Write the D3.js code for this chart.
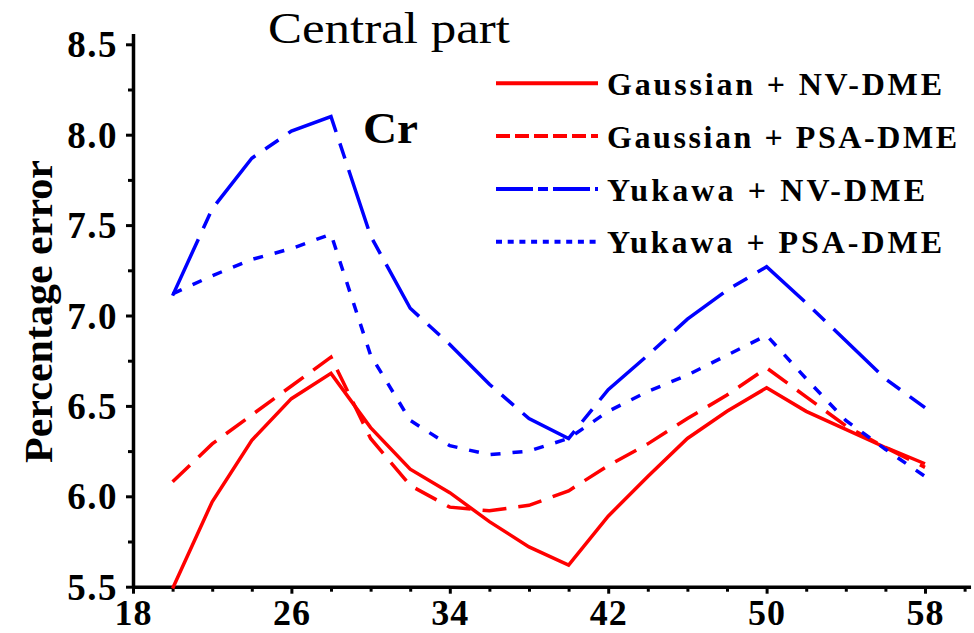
<!DOCTYPE html>
<html><head><meta charset="utf-8">
<script src="https://cdn.jsdelivr.net/npm/d3@7"></script>
<style>body{margin:0;background:#fff}svg{display:block}</style>
</head><body>
<svg id="c" width="974" height="633"></svg>
<script>
// ---- data ----
const massNumbers = [20,22,24,26,28,30,32,34,36,38,40,42,44,46,48,50,52,54,56,58];
const gaussianNV  = [5.49,5.97,6.31,6.54,6.68,6.38,6.15,6.02,5.86,5.72,5.62,5.89,6.11,6.32,6.47,6.60,6.47,6.37,6.27,6.18];
const gaussianPSA = [6.08,6.29,6.45,6.61,6.77,6.32,6.06,5.94,5.92,5.95,6.03,6.17,6.29,6.43,6.56,6.71,6.55,6.39,6.27,6.16];
const yukawaNV    = [7.11,7.59,7.87,8.02,8.10,7.44,7.04,6.84,6.62,6.43,6.32,6.59,6.78,6.98,7.14,7.27,7.07,6.86,6.65,6.49];
const yukawaPSA   = [7.12,7.22,7.31,7.37,7.45,6.78,6.42,6.28,6.23,6.25,6.32,6.47,6.58,6.67,6.78,6.89,6.65,6.42,6.26,6.11];
const seriesNames = ["Gaussian + NV-DME","Gaussian + PSA-DME","Yukawa + NV-DME","Yukawa + PSA-DME"];
const xTicks = [18,26,34,42,50,58];
const xMinorTicks = [20,22,24,28,30,32,36,38,40,44,46,48,52,54,56,60];
const yTicks = [5.5,6.0,6.5,7.0,7.5,8.0,8.5];
const yMinorTicks = [5.75,6.25,6.75,7.25,7.75,8.25];
const titleText = "Central part";
const elementText = "Cr";
const yLabelText = "Percentage error";

const seriesValues = [gaussianNV, gaussianPSA, yukawaNV, yukawaPSA];
const styles = [
  {color:"#ff0000", dash:null,          legDash:null,         legW:335},
  {color:"#ff0000", dash:"24,12",       legDash:"14,5",       legW:350},
  {color:"#0000ff", dash:"62,12,16,12", legDash:"37,5,10,5",  legW:318},
  {color:"#0000ff", dash:"10,12",       legDash:"6,5.7",      legW:335}
];

const svg = d3.select("#c");
const x = d3.scaleLinear().domain([18,58]).range([133,925]);
const y = d3.scaleLinear().domain([5.5,8.5]).range([586.7,44.3]);
const serif = "'Liberation Serif','Times New Roman',serif";

// axes (extended domain for axis line)
const xAxisScale = x.copy().domain([18,60.3]).range([133,x(60.3)]);
const yAxisScale = y.copy().domain([5.5,8.56]).range([586.7,y(8.56)]);

const gx = svg.append("g").attr("transform",`translate(0,${y(5.5)})`)
  .call(d3.axisBottom(xAxisScale).tickValues(xTicks).tickSize(7).tickSizeOuter(0).tickFormat(d3.format("d")));
const gxm = svg.append("g").attr("transform",`translate(0,${y(5.5)})`)
  .call(d3.axisBottom(xAxisScale).tickValues(xMinorTicks).tickSize(5).tickFormat(""));
gxm.select(".domain").remove();
const gy = svg.append("g").attr("transform",`translate(${x(18)},0)`)
  .call(d3.axisLeft(yAxisScale).tickValues(yTicks).tickSize(7).tickSizeOuter(0).tickFormat(d3.format(".1f")));
const gym = svg.append("g").attr("transform",`translate(${x(18)},0)`)
  .call(d3.axisLeft(yAxisScale).tickValues(yMinorTicks).tickSize(5).tickFormat(""));
gym.select(".domain").remove();

svg.selectAll(".domain").attr("stroke","#000").attr("stroke-width",3.5);
svg.selectAll(".tick line").attr("stroke","#000").attr("stroke-width",3);
gx.selectAll("text").attr("font-family",serif).attr("font-weight","bold").attr("font-size",36)
  .attr("fill","#000").attr("y",38).attr("dy",0).attr("letter-spacing",1);
gy.selectAll("text").attr("font-family",serif).attr("font-weight","bold").attr("font-size",37)
  .attr("fill","#000").attr("x",-15).attr("dy","0.34em").attr("letter-spacing",1.5);

// lines
const line = d3.line().x((d,i)=>x(massNumbers[i])).y(d=>y(d));
seriesValues.forEach((vals,k)=>{
  svg.append("path").datum(vals).attr("d",line)
    .attr("fill","none").attr("stroke",styles[k].color).attr("stroke-width",3.5)
    .attr("stroke-dasharray",styles[k].dash).attr("stroke-linejoin","miter");
});

// legend
const legY = [83.3,136,189,241.7];
seriesNames.forEach((name,k)=>{
  svg.append("line").attr("x1",496).attr("x2",598).attr("y1",legY[k]).attr("y2",legY[k])
    .attr("stroke",styles[k].color).attr("stroke-width",4).attr("stroke-dasharray",styles[k].legDash);
  svg.append("text").attr("x",607).attr("y",legY[k]+11.5).text(name)
    .attr("font-family",serif).attr("font-weight","bold").attr("font-size",32)
    .attr("textLength",styles[k].legW).attr("lengthAdjust","spacing").attr("fill","#000");
});

// title, element label, y label
svg.append("text").attr("x",268).attr("y",43).text(titleText)
  .attr("font-family",serif).attr("font-size",45).attr("textLength",242).attr("lengthAdjust","spacingAndGlyphs");
svg.append("text").attr("x",363).attr("y",143).text(elementText)
  .attr("font-family",serif).attr("font-weight","bold").attr("font-size",44).attr("textLength",55).attr("lengthAdjust","spacingAndGlyphs");
svg.append("text").attr("transform","translate(52,311.5) rotate(-90)").attr("text-anchor","middle").text(yLabelText)
  .attr("font-family",serif).attr("font-weight","bold").attr("font-size",41).attr("textLength",303).attr("lengthAdjust","spacingAndGlyphs");
</script>
</body></html>
